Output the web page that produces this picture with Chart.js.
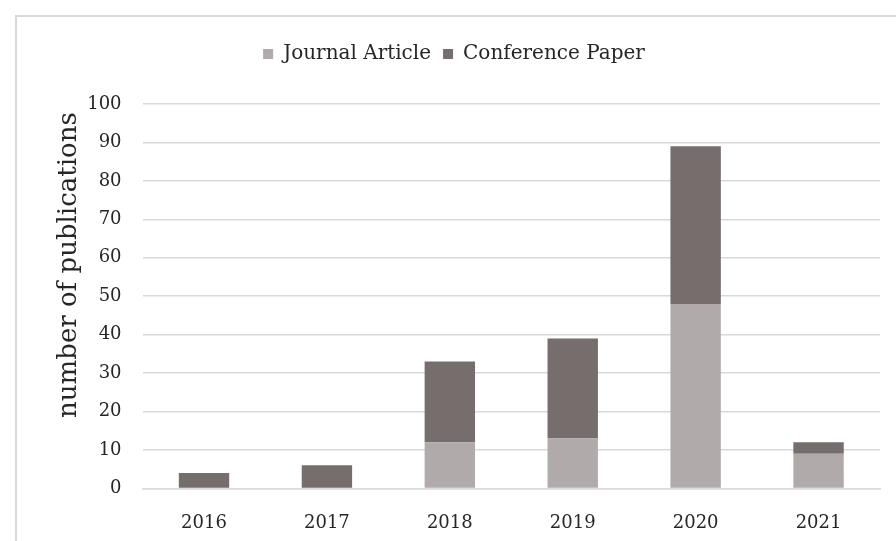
<!DOCTYPE html>
<html>
<head>
<meta charset="utf-8">
<script src="https://cdn.jsdelivr.net/npm/chart.js@4/dist/chart.umd.min.js"></script>
<style>
  html, body { margin: 0; padding: 0; background: #fff; }
  #wrap { position: relative; width: 896px; height: 541px; }
  #frame { position: absolute; left: 15px; top: 15px; right: 0; bottom: 0;
           border-top: 2px solid #d9d9d9; border-left: 2px solid #d9d9d9; }
  canvas { position: absolute; left: 0; top: 0; }
</style>
</head>
<body>
<div id="wrap">
  <div id="frame"></div>
  <canvas id="myChart" width="896" height="541"></canvas>
</div>
<script>
var years = ["2016", "2017", "2018", "2019", "2020", "2021"];
var journalArticles = [0, 0, 12, 13, 48, 9];
var conferencePapers = [4, 6, 21, 26, 41, 3];
var yTicks = [0, 10, 20, 30, 40, 50, 60, 70, 80, 90, 100];

// extra space under the legend, and nudge it a bit left
var legendTweak = {
    id: 'legendTweak',
    beforeInit: function(chart) {
        var fit = chart.legend.fit;
        chart.legend.fit = function() {
            fit.bind(chart.legend)();
            this.height += 30;
        };
    },
    afterLayout: function(chart) {
        chart.legend.left -= 13;
        chart.legend.right -= 13;
    }
};

document.addEventListener("DOMContentLoaded", function(){
    var serif = "'DejaVu Serif', 'Liberation Serif', serif";
    var ctx = document.getElementById('myChart').getContext('2d');
    var chart = new Chart(ctx, {
        type: 'bar',
        data: {
            labels: years,
            datasets: [{
                label: 'Journal Article',
                backgroundColor: '#b0abaa',
                data: journalArticles
            }, {
                label: 'Conference Paper',
                backgroundColor: '#766d6d',
                data: conferencePapers
            }]
        },
        plugins: [legendTweak],
        options: {
            responsive: false,
            animation: false,
            layout: { padding: { left: 54, right: 16, top: 32, bottom: -9 } },
            datasets: { bar: { categoryPercentage: 1, barPercentage: 0.41 } },
            plugins: {
                tooltip: { enabled: false },
                legend: {
                    position: 'top',
                    labels: {
                        font: { family: serif, size: 20 },
                        color: '#262626',
                        boxWidth: 10,
                        boxHeight: 10,
                        padding: 12
                    }
                }
            },
            scales: {
                x: {
                    stacked: true,
                    grid: { display: false },
                    border: { color: '#d9d9d9', width: 1.5 },
                    ticks: { font: { family: serif, size: 18 }, color: '#262626', padding: 16 }
                },
                y: {
                    stacked: true,
                    min: 0,
                    max: 100,
                    afterBuildTicks: function(axis) {
                        axis.ticks = yTicks.map(function(v){ return { value: v }; });
                    },
                    grid: { color: '#d9d9d9', lineWidth: 1.5, drawTicks: false },
                    border: { display: false },
                    ticks: { font: { family: serif, size: 18 }, color: '#262626', padding: 21 },
                    title: {
                        display: true,
                        text: 'number of publications ',
                        align: 'end',
                        font: { family: serif, size: 26 },
                        color: '#262626',
                        padding: { top: 0, bottom: -19 }
                    }
                }
            }
        }
    });
});
</script>
</body>
</html>
